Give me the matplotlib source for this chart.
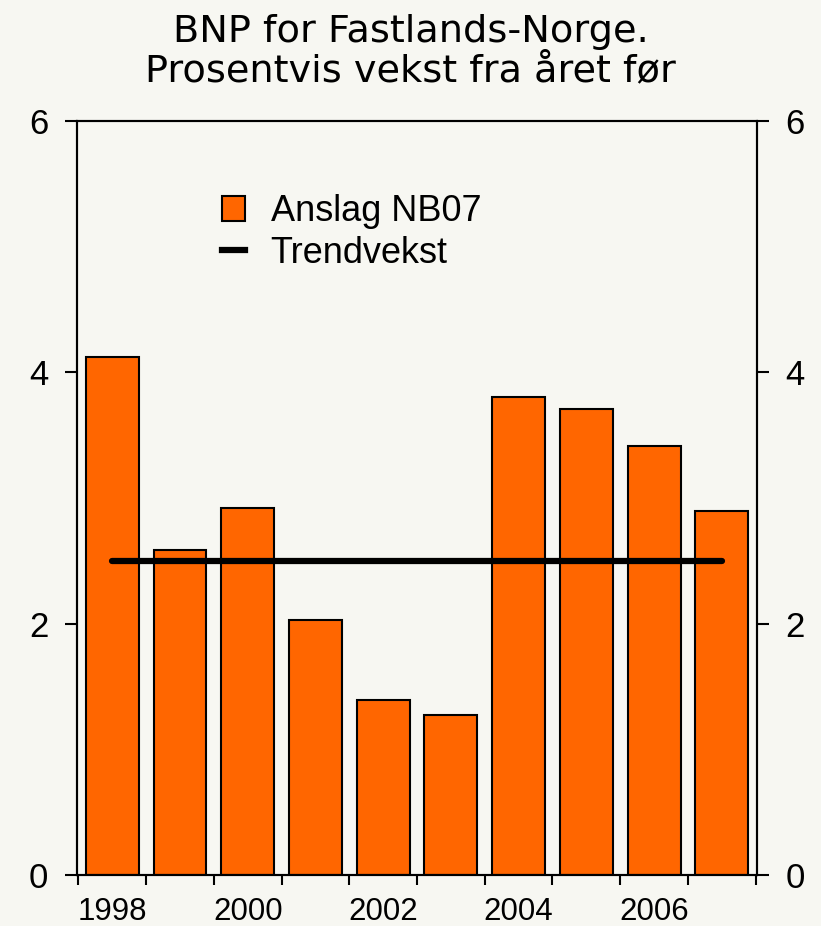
import matplotlib
matplotlib.use("Agg")
import matplotlib.pyplot as plt
from matplotlib.patches import Patch
from matplotlib.lines import Line2D

years = [1998, 1999, 2000, 2001, 2002, 2003, 2004, 2005, 2006, 2007]
growth = [4.12, 2.59, 2.92, 2.03, 1.39, 1.27, 3.80, 3.71, 3.41, 2.90]
trend = [2.5] * len(years)
label_years = ["1998", "2000", "2002", "2004", "2006"]
yticks = [0, 2, 4, 6]

bg = "#F7F7F2"
orange = "#FF6600"

plt.rcParams["font.family"] = ["Liberation Sans", "DejaVu Sans"]

fig = plt.figure(figsize=(8.21, 9.26), dpi=100, facecolor=bg)
ax = fig.add_axes([0.0938, 0.0551, 0.8283, 0.8142], facecolor=bg)

x = list(range(len(years)))
ax.bar(x, growth, width=0.78, color=orange, edgecolor="black", linewidth=1.5, zorder=2)
ax.plot(x, trend, color="black", linewidth=4.5, solid_capstyle="round", zorder=3)

ax.set_xlim(-0.52, len(years) - 0.48)
ax.set_ylim(0, 6)

# ticks between the bars, labels every other year under the bars
ax.set_xticks([i - 0.5 for i in range(len(years) + 1)])
ax.set_xticklabels([])
ax.set_xticks([i for i, y in enumerate(years) if str(y) in label_years], minor=True)
ax.set_xticklabels(label_years, minor=True, fontsize=22.5)
ax.tick_params(axis="x", which="major", direction="out", length=7, width=1.5)
ax.tick_params(axis="x", which="minor", length=0, pad=16)

ax.set_yticks(yticks)
ax.set_yticklabels([str(v) for v in yticks], fontsize=25)
ax.tick_params(axis="y", direction="out", length=8.6, width=1.5, pad=12)

ax2 = ax.twinx()
ax2.set_ylim(0, 6)
ax2.set_yticks(yticks)
ax2.set_yticklabels([str(v) for v in yticks], fontsize=25)
ax2.tick_params(axis="y", direction="out", length=8.6, width=1.5, pad=12)

for a in (ax, ax2):
    for s in a.spines.values():
        s.set_linewidth(1.5)

handles = [Patch(facecolor=orange, edgecolor="black", linewidth=1.5),
           Line2D([0], [0], color="black", linewidth=4.5)]
ax.legend(handles, ["Anslag NB07", "Trendvekst"], loc="upper left",
          bbox_to_anchor=(0.213, 0.903), frameon=False, fontsize=26, borderpad=0,
          borderaxespad=0, handlelength=0.65, handleheight=0.65,
          handletextpad=0.7, labelspacing=0.18)

fig.text(0.5, 0.985, "BNP for Fastlands-Norge.\nProsentvis vekst fra året før",
         ha="center", va="top", fontsize=27.5, family="DejaVu Sans", linespacing=1.12)

fig.savefig("out.png", dpi=100, facecolor=bg)
